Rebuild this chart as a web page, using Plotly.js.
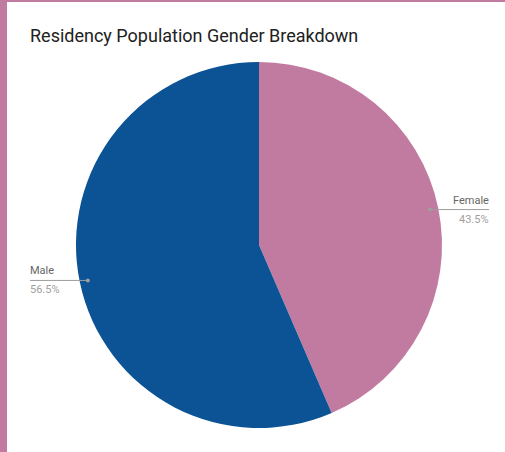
<!DOCTYPE html>
<html>
<head>
<meta charset="utf-8">
<script src="https://cdn.plot.ly/plotly-3.0.1.min.js"></script>
<style>
  html, body { margin: 0; padding: 0; background: #ffffff; }
  #wrap { position: relative; width: 505px; height: 452px; overflow: hidden; }
  #chart { position: absolute; left: 0; top: 0; width: 505px; height: 452px; }
  #bl { position: absolute; left: 0; top: 0; width: 7px; height: 452px; background: #c27ba0; }
  #bt { position: absolute; left: 0; top: 0; width: 505px; height: 2px; background: #c27ba0; }
</style>
</head>
<body>
<div id="wrap">
  <div id="chart"></div>
  <div id="bl"></div>
  <div id="bt"></div>
</div>
<script>
const chartTitle = "Residency Population Gender Breakdown";
const categories = ["Female", "Male"];
const percentages = [43.5, 56.5];
const sliceColors = ["#c27ba0", "#0b5394"];

const W = 505, H = 452;
const cx = 259, cy = 245, R = 183;
const px2x = p => p / W;
const py2y = p => 1 - p / H;

const total = percentages.reduce((a, b) => a + b, 0);
const annotations = [];
const shapes = [];
let cum = 0;
percentages.forEach((v, i) => {
  const mid = (cum + v / 2) / total * 2 * Math.PI;
  cum += v;
  const k = 0.955;
  const dx = cx + k * R * Math.sin(mid);
  const dy = cy - k * R * Math.cos(mid);
  const right = Math.sin(mid) > 0;
  const lineEnd = right ? 489 : 30;
  const textX = right ? lineEnd + 2 : lineEnd - 2;
  shapes.push({
    type: "line", xref: "paper", yref: "paper",
    x0: px2x(dx), x1: px2x(lineEnd), y0: py2y(dy), y1: py2y(dy),
    line: { color: "#9e9e9e", width: 1 }
  });
  shapes.push({
    type: "circle", xref: "paper", yref: "paper",
    x0: px2x(dx - 2), x1: px2x(dx + 2), y0: py2y(dy - 2), y1: py2y(dy + 2),
    fillcolor: "#9e9e9e", line: { width: 0 }
  });
  annotations.push({
    xref: "paper", yref: "paper", showarrow: false,
    x: px2x(textX), y: py2y(dy - 1),
    xanchor: right ? "right" : "left", yanchor: "bottom",
    text: categories[i],
    font: { family: "Roboto", size: 11, color: "#666666" }
  });
  annotations.push({
    xref: "paper", yref: "paper", showarrow: false,
    x: px2x(textX), y: py2y(dy + 1),
    xanchor: right ? "right" : "left", yanchor: "top",
    text: v.toFixed(1) + "%",
    font: { family: "Roboto", size: 11, color: "#a0a0a0" }
  });
});

const data = [{
  type: "pie",
  labels: categories,
  values: percentages,
  sort: false,
  direction: "clockwise",
  rotation: 0,
  textinfo: "none",
  hoverinfo: "none",
  marker: { colors: sliceColors, line: { width: 0 } },
  domain: { x: [px2x(cx - R), px2x(cx + R)], y: [py2y(cy + R), py2y(cy - R)] }
}];

const layout = {
  width: W, height: H,
  margin: { l: 0, r: 0, t: 0, b: 0 },
  paper_bgcolor: "#ffffff",
  showlegend: false,
  title: {
    text: chartTitle,
    font: { family: "Roboto", size: 18, color: "#212121" },
    xref: "paper", yref: "paper",
    x: px2x(30), xanchor: "left",
    y: py2y(36), yanchor: "middle"
  },
  annotations: annotations,
  shapes: shapes
};

Plotly.newPlot("chart", data, layout, { displayModeBar: false, staticPlot: true });
</script>
</body>
</html>
